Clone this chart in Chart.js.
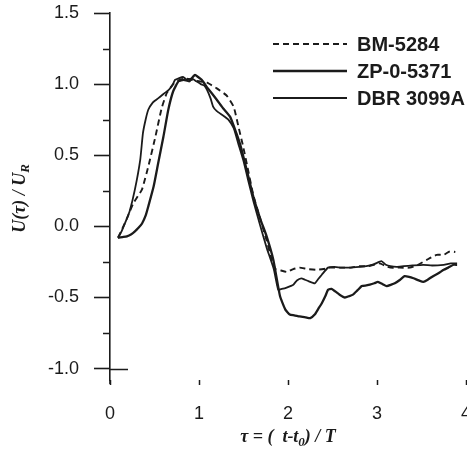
<!DOCTYPE html>
<html>
<head>
<meta charset="utf-8">
<script src="https://cdn.jsdelivr.net/npm/chart.js@4.4.1/dist/chart.umd.min.js"></script>
<style>
  html, body { margin: 0; padding: 0; background: #fff; overflow: hidden; }
  #wrap { width: 467px; height: 459px; overflow: hidden; position: relative; }
  #wrap canvas { position: absolute; left: 0; top: 0; }
</style>
</head>
<body>
<div id="wrap"><canvas id="c" width="480" height="459"></canvas></div>
<script>
// Normalised time tau and normalised velocity U(tau)/U_R for three records
const seriesNames = ['BM-5284', 'ZP-0-5371', 'DBR 3099A'];

const bmTau = [0.09, 0.15, 0.20, 0.26, 0.31, 0.36, 0.43, 0.51, 0.58, 0.64, 0.71, 0.78, 0.85, 0.92, 1.00,
  1.09, 1.20, 1.31, 1.39, 1.44, 1.50, 1.55, 1.61, 1.69, 1.76, 1.82, 1.86, 1.92, 1.99, 2.06, 2.13, 2.22,
  2.32, 2.40, 2.47, 2.58, 2.70, 2.80, 2.90, 3.03, 3.10, 3.15, 3.25, 3.37, 3.46, 3.56, 3.67, 3.75, 3.82, 3.88];
const bmU = [-0.08, 0.00, 0.07, 0.16, 0.21, 0.26, 0.42, 0.63, 0.83, 0.94, 1.00, 1.03, 1.04, 1.03, 1.02,
  1.01, 0.97, 0.92, 0.84, 0.71, 0.55, 0.40, 0.22, 0.05, -0.10, -0.24, -0.30, -0.31, -0.32, -0.30, -0.29, -0.30,
  -0.305, -0.30, -0.29, -0.29, -0.29, -0.28, -0.28, -0.26, -0.28, -0.29, -0.29, -0.29, -0.27, -0.235, -0.20, -0.20, -0.175, -0.18];

const zpTau = [0.09, 0.14, 0.19, 0.24, 0.28, 0.32, 0.36, 0.40, 0.43, 0.49, 0.54, 0.60, 0.655, 0.71, 0.77,
  0.83, 0.89, 0.93, 0.955, 0.99, 1.03, 1.10, 1.20, 1.27, 1.35, 1.42, 1.47, 1.535, 1.61, 1.69, 1.76, 1.835,
  1.91, 1.97, 2.02, 2.07, 2.13, 2.20, 2.25, 2.30, 2.34, 2.38, 2.42, 2.45, 2.49, 2.53, 2.58, 2.64, 2.69, 2.73,
  2.78, 2.83, 2.88, 2.92, 2.97, 3.01, 3.06, 3.11, 3.16, 3.20, 3.26, 3.31, 3.36, 3.41, 3.47, 3.52, 3.57, 3.63,
  3.69, 3.75, 3.80, 3.86, 3.90];
const zpU = [-0.08, -0.075, -0.07, -0.055, -0.035, -0.01, 0.02, 0.075, 0.14, 0.28, 0.44, 0.63, 0.82, 0.95, 1.02,
  1.03, 1.02, 1.05, 1.065, 1.05, 1.03, 0.97, 0.89, 0.83, 0.77, 0.655, 0.56, 0.40, 0.21, 0.05, -0.07, -0.235,
  -0.49, -0.585, -0.62, -0.625, -0.633, -0.64, -0.645, -0.62, -0.58, -0.54, -0.49, -0.445, -0.44, -0.457, -0.48, -0.50, -0.49, -0.48,
  -0.45, -0.42, -0.415, -0.41, -0.40, -0.39, -0.405, -0.42, -0.41, -0.40, -0.375, -0.35, -0.355, -0.365, -0.38, -0.39, -0.375, -0.35,
  -0.33, -0.305, -0.29, -0.27, -0.27];

const dbrTau = [0.09, 0.13, 0.18, 0.22, 0.28, 0.34, 0.37, 0.40, 0.43, 0.48, 0.52, 0.56, 0.62, 0.66, 0.70,
  0.73, 0.77, 0.82, 0.87, 0.92, 0.97, 1.02, 1.06, 1.09, 1.13, 1.16, 1.20, 1.27, 1.33, 1.39, 1.44, 1.50,
  1.55, 1.61, 1.69, 1.76, 1.84, 1.89, 1.93, 1.985, 2.06, 2.10, 2.15, 2.19, 2.23, 2.30, 2.34, 2.38, 2.45,
  2.52, 2.60, 2.70, 2.80, 2.88, 2.97, 3.05, 3.10, 3.15, 3.22, 3.30, 3.40, 3.52, 3.62, 3.75, 3.83, 3.90];
const dbrU = [-0.08, -0.035, 0.04, 0.105, 0.26, 0.47, 0.655, 0.75, 0.82, 0.87, 0.89, 0.91, 0.94, 0.96, 0.99,
  1.03, 1.04, 1.05, 1.03, 1.04, 1.02, 1.00, 0.99, 0.96, 0.90, 0.84, 0.81, 0.78, 0.75, 0.69, 0.585, 0.46,
  0.33, 0.18, 0.00, -0.15, -0.30, -0.445, -0.44, -0.43, -0.41, -0.38, -0.365, -0.375, -0.385, -0.40, -0.37, -0.34, -0.29,
  -0.285, -0.29, -0.29, -0.285, -0.28, -0.265, -0.245, -0.27, -0.28, -0.285, -0.28, -0.275, -0.27, -0.275, -0.27, -0.26, -0.26];

// Axis ticks
const xTickValues = [0, 1, 2, 3, 4];
const xTickLabels = ['0', '1', '2', '3', '4'];
const yTickValues = [-1.0, -0.5, 0.0, 0.5, 1.0, 1.5];
const yTickLabels = ['-1.0', '-0.5', '0.0', '0.5', '1.0', '1.5'];
const yMinorValues = [-0.75, -0.25, 0.25, 0.75, 1.25];

const INK = '#1b1b1b';
const pairs = (xs, ys) => xs.map((x, i) => ({ x: x, y: ys[i] }));

// Minor ticks, axis end and the crossing tick at -1.0
const axisExtras = {
  id: 'axisExtras',
  afterDraw(chart) {
    const ctx = chart.ctx, y = chart.scales.y, a = chart.chartArea;
    ctx.save();
    ctx.strokeStyle = INK;
    ctx.lineWidth = 1.6;
    ctx.beginPath();
    yMinorValues.forEach(v => {
      const p = Math.round(y.getPixelForValue(v)) + 0.5;
      ctx.moveTo(a.left - 7, p);
      ctx.lineTo(a.left, p);
    });
    ctx.moveTo(a.left, a.bottom);
    ctx.lineTo(a.left, a.bottom + 4);
    const pm = Math.round(y.getPixelForValue(-1.0)) + 0.5;
    ctx.moveTo(a.left, pm);
    ctx.lineTo(a.left + 18, pm);
    ctx.stroke();
    ctx.restore();
  }
};

// Text with an optional subscript part, centred on (cx, cy)
function drawRich(ctx, parts, cx, cy, size) {
  const subSize = Math.round(size * 0.7);
  const fontMain = 'italic bold ' + size + 'px "Liberation Serif", "Times New Roman", serif';
  const fontSub = 'italic bold ' + subSize + 'px "Liberation Serif", "Times New Roman", serif';
  let total = 0;
  parts.forEach(p => { ctx.font = p.sub ? fontSub : fontMain; total += ctx.measureText(p.t).width; });
  let x = cx - total / 2;
  ctx.textBaseline = 'middle';
  ctx.textAlign = 'left';
  parts.forEach(p => {
    ctx.font = p.sub ? fontSub : fontMain;
    ctx.fillText(p.t, x, p.sub ? cy + size * 0.3 : cy);
    x += ctx.measureText(p.t).width;
  });
}

const axisTitles = {
  id: 'axisTitles',
  afterDraw(chart) {
    const ctx = chart.ctx, a = chart.chartArea;
    ctx.save();
    ctx.fillStyle = INK;
    drawRich(ctx, [{ t: 'τ = (  ' }, { t: 't-t' }, { t: '0', sub: true }, { t: ') / T' }],
      (a.left + a.right) / 2, a.bottom + 57, 18);
    ctx.translate(20, (a.top + a.bottom) / 2 + 2);
    ctx.rotate(-Math.PI / 2);
    drawRich(ctx, [{ t: 'U(τ) / U' }, { t: 'R', sub: true }], 0, 0, 18);
    ctx.restore();
  }
};

// Legend placed inside the plotting area, top right
const insideLegend = {
  id: 'insideLegend',
  afterDraw(chart) {
    const ctx = chart.ctx, a = chart.chartArea;
    const x0 = a.left + 163, x1 = a.left + 237, tx = a.left + 247;
    const rows = [a.top + 31, a.top + 58, a.top + 85];
    ctx.save();
    ctx.font = 'bold 20px "Liberation Sans", Arial, sans-serif';
    ctx.textBaseline = 'middle';
    ctx.textAlign = 'left';
    chart.data.datasets.forEach((ds, i) => {
      const yy = rows[i];
      ctx.strokeStyle = ds.borderColor;
      ctx.lineWidth = ds.borderWidth;
      ctx.setLineDash(ds.borderDash || []);
      ctx.beginPath();
      ctx.moveTo(x0, yy);
      ctx.lineTo(x1, yy);
      ctx.stroke();
      ctx.setLineDash([]);
      ctx.fillStyle = INK;
      ctx.fillText(ds.label, tx, yy + 1);
    });
    ctx.restore();
  }
};

new Chart(document.getElementById('c'), {
  type: 'line',
  data: {
    datasets: [
      { label: seriesNames[0], data: pairs(bmTau, bmU), borderColor: INK, borderWidth: 1.9, borderDash: [6, 4] },
      { label: seriesNames[1], data: pairs(zpTau, zpU), borderColor: INK, borderWidth: 2.3 },
      { label: seriesNames[2], data: pairs(dbrTau, dbrU), borderColor: INK, borderWidth: 1.8 }
    ]
  },
  options: {
    responsive: false,
    animation: false,
    devicePixelRatio: 1,
    layout: { padding: { left: 30, right: 14, top: 13, bottom: 0 } },
    elements: { point: { radius: 0 }, line: { tension: 0.15, fill: false } },
    plugins: { legend: { display: false }, tooltip: { enabled: false } },
    scales: {
      x: {
        type: 'linear', min: 0, max: 4,
        afterBuildTicks: s => { s.ticks = xTickValues.map(v => ({ value: v })); },
        afterFit: s => { s.height = 79; s.paddingLeft = 0; s.paddingRight = 0; },
        border: { display: false },
        grid: { drawOnChartArea: false, drawTicks: true, tickLength: 5, tickColor: INK, tickWidth: 1.5 },
        ticks: {
          color: INK, padding: 18, maxRotation: 0,
          font: { family: '"Liberation Sans", Arial, sans-serif', size: 18 },
          callback: (v, i) => xTickLabels[i]
        }
      },
      y: {
        type: 'linear', min: -1.08, max: 1.5,
        afterBuildTicks: s => { s.ticks = yTickValues.map(v => ({ value: v })); },
        afterFit: s => { s.width = 80; s.paddingTop = 0; s.paddingBottom = 0; },
        border: { display: true, color: INK, width: 1.6 },
        grid: { drawOnChartArea: false, drawTicks: true, tickLength: 16, tickColor: INK, tickWidth: 1.6 },
        ticks: {
          color: INK, padding: 15,
          font: { family: '"Liberation Sans", Arial, sans-serif', size: 18 },
          callback: (v, i) => yTickLabels[i]
        }
      }
    }
  },
  plugins: [axisExtras, axisTitles, insideLegend]
});
</script>
</body>
</html>
